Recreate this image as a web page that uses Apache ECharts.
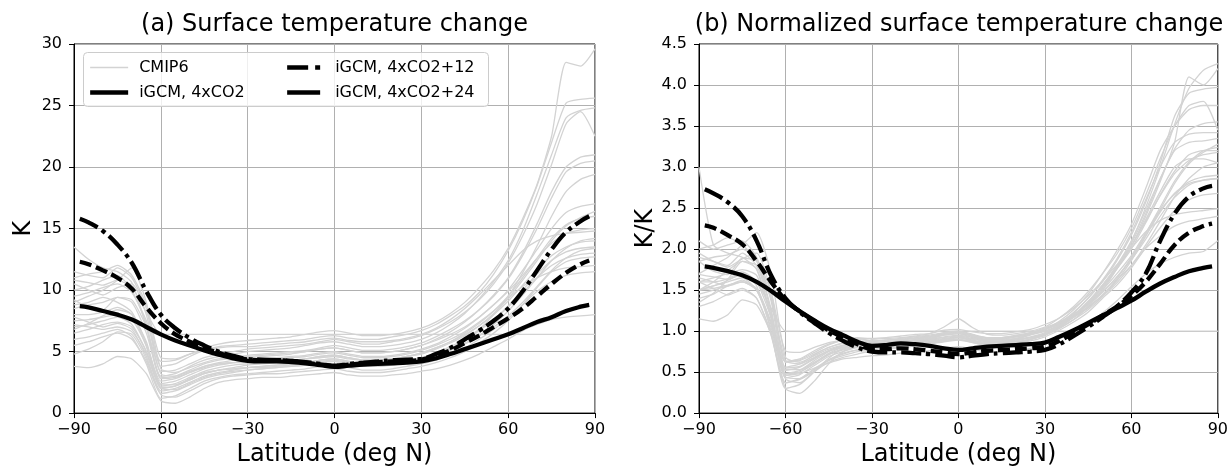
<!DOCTYPE html>
<html><head><meta charset="utf-8">
<script src="https://cdn.jsdelivr.net/npm/echarts@6/dist/echarts.min.js"></script>
<style>html,body{margin:0;padding:0;background:#fff}#c{width:1231px;height:472px}</style>
</head><body><div id="c"></div>
<script>
// latitude grids
var lat = [-90,-85,-80,-75,-70,-65,-60,-55,-50,-45,-40,-35,-30,-25,-20,-15,-10,-5,0,5,10,15,20,25,30,35,40,45,50,55,60,65,70,75,80,85,90];
var latG = [-88,-85,-80,-75,-70,-65,-60,-55,-50,-45,-40,-35,-30,-25,-20,-15,-10,-5,0,5,10,15,20,25,30,35,40,45,50,55,60,65,70,75,80,85,88];

// (a) iGCM surface temperature change (K)
var igcmA_4x   = [8.7,8.6,8.3,8.0,7.6,7.0,6.4,5.9,5.5,5.1,4.75,4.45,4.25,4.2,4.2,4.15,4.05,3.9,3.75,3.85,3.95,4.0,4.05,4.1,4.2,4.45,4.8,5.2,5.6,6.0,6.4,6.9,7.4,7.8,8.3,8.65,8.8];
var igcmA_4x12 = [12.3,12.1,11.6,11.0,10.1,8.6,7.3,6.4,5.8,5.3,4.9,4.55,4.35,4.3,4.3,4.25,4.1,3.95,3.85,3.95,4.05,4.15,4.2,4.25,4.35,4.7,5.1,5.7,6.3,7.0,7.7,8.5,9.5,10.5,11.4,12.1,12.4];
var igcmA_4x24 = [15.8,15.5,14.8,13.7,12.2,9.9,8.0,6.9,6.1,5.5,5.0,4.65,4.4,4.35,4.3,4.25,4.15,4.0,3.85,4.0,4.1,4.2,4.3,4.35,4.4,4.8,5.3,6.0,6.7,7.5,8.5,9.9,11.6,13.3,14.7,15.6,16.0];

// (b) iGCM normalized change (K/K)
var igcmB_4x   = [1.79,1.77,1.73,1.68,1.6,1.49,1.36,1.24,1.13,1.03,0.95,0.87,0.82,0.83,0.85,0.84,0.82,0.79,0.77,0.79,0.81,0.82,0.83,0.84,0.86,0.93,1.01,1.1,1.19,1.28,1.37,1.48,1.58,1.66,1.73,1.77,1.79];
var igcmB_4x12 = [2.29,2.26,2.17,2.06,1.85,1.6,1.38,1.24,1.12,1.01,0.92,0.84,0.78,0.78,0.79,0.78,0.76,0.74,0.72,0.74,0.76,0.77,0.78,0.79,0.81,0.88,0.98,1.08,1.19,1.3,1.43,1.6,1.82,2.05,2.2,2.28,2.31];
var igcmB_4x24 = [2.73,2.68,2.57,2.4,2.1,1.68,1.4,1.23,1.1,0.98,0.88,0.8,0.75,0.74,0.74,0.73,0.72,0.7,0.68,0.7,0.72,0.73,0.74,0.75,0.77,0.84,0.94,1.05,1.17,1.3,1.47,1.7,2.1,2.43,2.64,2.74,2.77];

// (a) CMIP6 models (K), values at lat
var cmipA = [
 [9.5,9.8,10.2,10.5,9.8,7.5,4.2,4.3,4.8,5.3,5.6,5.8,5.9,6.0,6.1,6.2,6.4,6.6,6.7,6.5,6.3,6.3,6.4,6.6,6.9,7.4,8.1,9.0,10.2,11.6,13.4,15.8,18.6,22.5,28.5,28.2,29.6],
 [11.5,11.2,11.0,11.8,11.0,8.5,3.8,4.0,4.6,5.1,5.4,5.5,5.6,5.7,5.8,5.9,6.0,6.2,6.3,6.1,6.0,6.0,6.2,6.4,6.7,7.2,7.9,8.7,9.8,11.3,13.2,15.6,18.5,22.0,25.2,25.5,25.6],
 [8.5,8.8,9.0,9.4,9.0,6.5,3.0,3.2,3.8,4.3,4.6,4.8,5.0,5.1,5.2,5.3,5.5,5.7,5.8,5.6,5.4,5.4,5.5,5.7,6.0,6.5,7.2,8.1,9.3,10.7,12.4,14.8,17.8,21.0,24.0,24.6,24.8],
 [10.5,10.0,9.6,10.2,10.5,8.0,3.4,3.5,4.0,4.5,4.8,5.0,5.2,5.3,5.4,5.5,5.6,5.8,6.0,5.8,5.6,5.6,5.8,6.0,6.3,6.8,7.4,8.2,9.2,10.5,12.2,14.4,17.0,20.2,23.5,24.5,22.5],
 [7.5,7.6,7.8,8.0,7.6,5.5,2.6,2.8,3.3,3.8,4.1,4.3,4.5,4.6,4.7,4.8,5.0,5.2,5.3,5.1,4.9,4.9,5.0,5.2,5.5,6.0,6.6,7.4,8.4,9.6,11.0,13.0,15.4,18.0,20.0,20.8,21.0],
 [10.0,10.3,10.8,11.2,10.0,7.2,2.9,3.0,3.5,4.0,4.3,4.5,4.7,4.8,4.9,5.0,5.1,5.3,5.5,5.3,5.1,5.1,5.2,5.4,5.7,6.2,6.8,7.5,8.4,9.5,10.9,12.8,15.0,17.5,19.6,20.3,20.5],
 [8.0,8.0,8.2,8.6,8.0,5.8,2.4,2.6,3.1,3.6,3.9,4.1,4.3,4.4,4.5,4.6,4.7,4.9,5.0,4.8,4.6,4.6,4.7,4.9,5.2,5.6,6.2,6.9,7.8,8.8,10.0,11.6,13.3,15.0,16.3,16.8,17.0],
 [6.5,6.8,7.2,7.4,7.0,5.0,2.0,2.2,2.7,3.2,3.5,3.7,3.9,4.0,4.1,4.2,4.4,4.6,4.7,4.5,4.3,4.3,4.4,4.6,4.9,5.3,5.8,6.5,7.3,8.3,9.5,11.0,12.6,14.2,15.3,15.8,16.0],
 [9.0,9.5,10.0,10.8,11.8,9.0,3.6,3.3,3.7,4.1,4.4,4.5,4.6,4.7,4.8,4.9,5.0,5.2,5.3,5.1,4.9,4.9,5.0,5.2,5.5,5.9,6.4,7.0,7.8,8.8,9.9,11.2,12.6,13.8,14.6,14.9,15.0],
 [7.0,7.2,7.5,7.8,7.2,5.0,2.2,2.4,2.9,3.4,3.7,3.9,4.0,4.1,4.2,4.3,4.4,4.6,4.7,4.5,4.3,4.3,4.4,4.6,4.9,5.3,5.8,6.4,7.1,8.0,9.1,10.4,11.7,12.8,13.5,13.9,14.0],
 [5.5,5.8,6.2,6.5,6.0,4.2,1.6,1.8,2.3,2.8,3.1,3.3,3.5,3.6,3.7,3.8,3.9,4.1,4.2,4.0,3.9,3.9,4.0,4.2,4.4,4.8,5.3,5.9,6.7,7.6,8.7,10.0,11.3,12.4,13.1,13.4,13.5],
 [7.8,7.4,7.0,7.3,6.8,4.6,1.8,2.0,2.5,3.0,3.3,3.5,3.7,3.8,3.9,4.0,4.1,4.3,4.4,4.2,4.0,4.0,4.1,4.3,4.5,4.9,5.4,6.0,6.8,7.6,8.6,9.8,11.0,12.0,12.6,12.9,13.0],
 [13.5,12.5,11.8,11.5,10.6,7.0,2.8,2.9,3.3,3.7,4.0,4.1,4.2,4.3,4.4,4.5,4.6,4.8,4.9,4.7,4.5,4.5,4.6,4.8,5.1,5.5,6.0,6.6,7.4,8.3,9.3,10.3,11.0,11.5,11.8,11.9,12.0],
 [6.0,6.2,6.5,6.8,6.2,4.0,1.2,1.4,2.0,2.6,2.9,3.1,3.2,3.3,3.4,3.5,3.6,3.8,3.9,3.7,3.5,3.5,3.6,3.8,4.0,4.3,4.8,5.3,6.0,6.8,7.7,8.8,9.9,10.7,11.2,11.4,11.5],
 [3.8,3.7,4.0,4.6,4.4,3.2,1.0,0.8,1.3,2.0,2.5,2.7,2.8,2.9,2.9,3.0,3.1,3.2,3.3,3.1,3.0,3.0,3.1,3.2,3.4,3.6,3.9,4.3,4.8,5.4,6.0,6.7,7.2,7.6,7.8,7.9,8.0],
 [10.8,10.6,10.4,10.8,10.2,8.2,6.4,6.4,6.4,6.4,6.4,6.4,6.4,6.4,6.4,6.4,6.4,6.4,6.4,6.4,6.4,6.4,6.4,6.4,6.4,6.4,6.4,6.4,6.4,6.4,6.4,6.4,6.4,6.4,6.4,6.4,6.4],
 [8.8,9.0,9.4,9.0,8.2,5.6,2.1,2.2,2.7,3.2,3.5,3.6,3.7,3.8,3.9,4.0,4.1,4.3,4.4,4.2,4.0,4.0,4.1,4.3,4.5,4.8,5.2,5.7,6.3,7.0,7.9,9.0,10.3,11.6,12.6,13.2,13.4],
 [4.8,5.2,5.8,6.6,6.4,4.4,1.5,1.3,1.8,2.4,2.8,3.0,3.1,3.2,3.2,3.3,3.4,3.5,3.6,3.4,3.3,3.3,3.4,3.6,3.8,4.1,4.5,5.0,5.7,6.5,7.5,8.8,10.2,11.5,12.3,12.6,12.7],
 [11.0,11.3,11.5,12.0,11.2,8.8,4.5,4.4,4.8,5.1,5.3,5.4,5.4,5.5,5.6,5.7,5.8,6.0,6.1,5.9,5.8,5.8,5.9,6.1,6.4,6.9,7.6,8.5,9.6,10.8,12.0,13.2,14.0,14.4,14.6,14.7,14.8],
 [7.2,7.0,6.8,7.0,6.6,4.8,2.3,2.3,2.8,3.3,3.5,3.6,3.7,3.7,3.8,3.9,4.0,4.2,4.3,4.1,3.9,3.9,4.0,4.2,4.4,4.7,5.1,5.6,6.3,7.2,8.3,9.6,11.0,12.4,13.4,14.0,14.2],
 [9.2,8.6,8.4,9.4,9.2,7.0,3.2,3.0,3.4,3.8,4.0,4.1,4.1,4.2,4.2,4.3,4.4,4.5,4.6,4.4,4.3,4.3,4.4,4.6,4.8,5.2,5.7,6.3,7.1,8.1,9.3,10.8,12.4,14.0,15.2,15.9,16.4],
 [6.8,7.3,7.9,8.4,8.0,5.4,2.0,1.9,2.4,2.9,3.2,3.4,3.5,3.6,3.7,3.8,3.9,4.1,4.2,4.0,3.8,3.8,3.9,4.1,4.3,4.7,5.2,5.9,6.8,8.0,9.5,11.4,13.6,16.0,18.0,19.0,19.4]
];

// (b) CMIP6 models normalized (K/K)
var cmipB = [
 [1.5,1.55,1.6,1.65,1.5,1.1,0.62,0.64,0.72,0.80,0.85,0.88,0.86,0.87,0.88,0.89,0.9,0.93,0.95,0.92,0.89,0.89,0.9,0.92,0.96,1.05,1.17,1.33,1.52,1.76,2.03,2.4,2.82,3.3,4.1,4.0,4.2],
 [1.9,1.85,1.8,1.95,1.8,1.4,0.63,0.66,0.76,0.84,0.89,0.91,0.88,0.89,0.9,0.91,0.92,0.95,0.97,0.94,0.92,0.92,0.94,0.97,1.02,1.1,1.23,1.4,1.6,1.86,2.17,2.57,3.05,3.62,3.9,3.95,3.97],
 [1.6,1.65,1.7,1.75,1.68,1.2,0.56,0.6,0.71,0.8,0.86,0.9,0.88,0.89,0.9,0.92,0.94,0.97,0.99,0.95,0.92,0.92,0.94,0.97,1.02,1.12,1.26,1.45,1.7,1.98,2.3,2.74,3.2,3.5,3.7,3.75,3.75],
 [1.95,1.85,1.78,1.88,1.95,1.48,0.63,0.65,0.74,0.83,0.89,0.92,0.9,0.91,0.92,0.94,0.97,1.05,1.15,1.04,0.96,0.95,0.97,1.0,1.05,1.16,1.3,1.48,1.7,1.94,2.25,2.66,3.1,3.5,3.75,3.8,3.45],
 [1.5,1.52,1.56,1.6,1.52,1.1,0.52,0.56,0.66,0.76,0.82,0.86,0.85,0.86,0.87,0.88,0.9,0.92,0.94,0.91,0.88,0.88,0.9,0.93,0.98,1.08,1.22,1.4,1.62,1.88,2.2,2.6,3.0,3.3,3.4,3.42,3.42],
 [2.1,2.0,2.05,2.1,1.9,1.37,0.55,0.57,0.67,0.76,0.82,0.86,0.85,0.86,0.87,0.88,0.89,0.91,0.93,0.9,0.87,0.87,0.89,0.92,0.97,1.06,1.19,1.36,1.56,1.78,2.07,2.43,2.85,3.2,3.3,3.32,3.35],
 [1.6,1.6,1.64,1.72,1.6,1.16,0.48,0.52,0.62,0.72,0.78,0.82,0.82,0.83,0.84,0.85,0.87,0.9,0.92,0.89,0.86,0.86,0.87,0.9,0.96,1.05,1.18,1.34,1.54,1.76,2.0,2.32,2.66,2.95,3.15,3.2,3.2],
 [1.4,1.45,1.55,1.6,1.5,1.08,0.43,0.47,0.58,0.69,0.75,0.8,0.8,0.81,0.82,0.83,0.86,0.89,0.9,0.87,0.84,0.84,0.86,0.9,0.96,1.06,1.19,1.36,1.56,1.78,2.04,2.36,2.7,3.0,3.1,3.1,3.05],
 [1.7,1.8,1.9,2.05,2.2,1.7,0.68,0.62,0.7,0.78,0.83,0.85,0.87,0.89,0.91,0.93,0.95,0.98,1.0,0.96,0.92,0.92,0.95,0.98,1.04,1.11,1.21,1.32,1.47,1.66,1.87,2.12,2.4,2.63,2.78,2.84,2.86],
 [1.45,1.5,1.55,1.62,1.5,1.04,0.46,0.5,0.6,0.71,0.77,0.81,0.83,0.85,0.87,0.89,0.91,0.96,0.98,0.94,0.89,0.89,0.91,0.96,1.02,1.1,1.2,1.33,1.48,1.66,1.89,2.16,2.45,2.68,2.82,2.88,2.9],
 [1.3,1.36,1.45,1.52,1.4,0.98,0.37,0.42,0.54,0.65,0.73,0.77,0.78,0.79,0.8,0.82,0.84,0.87,0.89,0.86,0.83,0.83,0.86,0.9,0.95,1.05,1.18,1.34,1.54,1.78,2.04,2.34,2.65,2.92,3.08,3.15,3.18],
 [1.6,1.52,1.44,1.5,1.4,0.95,0.37,0.41,0.51,0.62,0.68,0.72,0.76,0.78,0.8,0.82,0.85,0.88,0.9,0.86,0.82,0.82,0.85,0.88,0.93,1.01,1.11,1.23,1.4,1.56,1.77,2.02,2.26,2.47,2.6,2.66,2.68],
 [3.0,2.05,1.95,1.9,1.75,1.16,0.46,0.48,0.55,0.61,0.66,0.68,0.7,0.71,0.73,0.74,0.76,0.79,0.81,0.78,0.74,0.74,0.76,0.79,0.84,0.91,0.99,1.09,1.22,1.37,1.54,1.7,1.82,1.9,1.95,1.97,2.1],
 [1.5,1.55,1.62,1.7,1.55,1.0,0.3,0.35,0.5,0.65,0.72,0.77,0.8,0.82,0.85,0.87,0.9,0.95,0.97,0.92,0.87,0.87,0.9,0.95,1.0,1.07,1.2,1.32,1.5,1.7,1.92,2.2,2.47,2.67,2.8,2.84,2.86],
 [1.15,1.12,1.2,1.38,1.32,0.96,0.3,0.24,0.39,0.6,0.75,0.81,0.84,0.87,0.87,0.9,0.93,0.96,0.99,0.93,0.9,0.9,0.93,0.96,1.02,1.08,1.17,1.29,1.44,1.62,1.8,2.01,2.16,2.28,2.34,2.37,2.4],
 [1.69,1.66,1.63,1.69,1.6,1.28,1.0,1.0,1.0,1.0,1.0,1.0,1.0,1.0,1.0,1.0,1.0,1.0,1.0,1.0,1.0,1.0,1.0,1.0,1.0,1.0,1.0,1.0,1.0,1.0,1.0,1.0,1.0,1.0,1.0,1.0,1.0],
 [2.0,2.05,2.14,2.05,1.86,1.27,0.48,0.5,0.61,0.73,0.8,0.82,0.84,0.86,0.89,0.91,0.93,0.98,1.0,0.95,0.91,0.91,0.93,0.98,1.02,1.09,1.18,1.3,1.43,1.59,1.8,2.05,2.34,2.64,2.86,3.0,3.05],
 [1.35,1.46,1.63,1.85,1.8,1.24,0.42,0.37,0.51,0.67,0.79,0.84,0.8,0.82,0.82,0.84,0.86,0.88,0.9,0.87,0.84,0.84,0.86,0.9,0.95,1.05,1.18,1.34,1.56,1.8,2.1,2.47,2.86,3.22,3.45,3.53,3.55],
 [1.85,1.9,1.93,2.0,1.88,1.48,0.76,0.74,0.8,0.86,0.89,0.91,0.91,0.92,0.94,0.96,0.97,1.01,1.02,0.99,0.97,0.97,0.99,1.02,1.08,1.16,1.28,1.43,1.61,1.81,2.01,2.21,2.35,2.42,2.45,2.47,2.49],
 [1.65,1.6,1.55,1.6,1.5,1.1,0.53,0.53,0.64,0.75,0.8,0.82,0.85,0.85,0.87,0.89,0.91,0.96,0.98,0.94,0.89,0.89,0.91,0.96,1.0,1.07,1.17,1.28,1.44,1.64,1.9,2.19,2.51,2.83,3.06,3.2,3.24],
 [1.85,1.73,1.69,1.89,1.85,1.41,0.64,0.6,0.68,0.76,0.8,0.82,0.82,0.84,0.84,0.86,0.88,0.9,0.92,0.88,0.86,0.86,0.88,0.92,0.96,1.04,1.14,1.26,1.42,1.62,1.86,2.16,2.48,2.8,3.04,3.18,3.28],
 [1.5,1.6,1.74,1.85,1.76,1.19,0.44,0.42,0.53,0.64,0.7,0.75,0.77,0.79,0.81,0.84,0.86,0.9,0.92,0.88,0.84,0.84,0.86,0.9,0.95,1.03,1.14,1.3,1.5,1.76,2.09,2.51,2.99,3.52,3.96,4.18,4.26]
];

var FONT = 'DejaVu Sans';
var DASH = [12,5], DASHDOT = [20,5,4,5];
function pairs(xs, ys){ return ys.map(function(v,i){ return [xs[i], v]; }); }
function minusFmt(v){ return String(v).replace('-', '\u2212'); }

var series = [];
function addPanel(idx, cmip, a, b, c){
  cmip.forEach(function(m){
    series.push({type:'line', name:'CMIP6', xAxisIndex:idx, yAxisIndex:idx, data:pairs(lat, m),
      showSymbol:false, symbol:'none', smooth:0.2, silent:true, z:2,
      itemStyle:{color:'#d3d3d3'},
      lineStyle:{color:'#d3d3d3', width:1.3}});
  });
  var blk = [[a,'iGCM, 4xCO2','solid'],[b,'iGCM, 4xCO2+12',DASH],[c,'iGCM, 4xCO2+24',DASHDOT]];
  blk.forEach(function(s){
    series.push({type:'line', name:s[1], xAxisIndex:idx, yAxisIndex:idx, data:pairs(latG, s[0]),
      showSymbol:false, symbol:'none', smooth:0.4, silent:true, z:3,
      itemStyle:{color:'#000'},
      lineStyle:{color:'#000', width:4.3, type:s[2], cap:'butt'}});
  });
}
addPanel(0, cmipA, igcmA_4x, igcmA_4x12, igcmA_4x24);
addPanel(1, cmipB, igcmB_4x, igcmB_4x12, igcmB_4x24);

function xAx(i){
  return {type:'value', gridIndex:i, min:-90, max:90, interval:30,
    name:'Latitude (deg N)', nameLocation:'middle', nameGap:28,
    nameTextStyle:{fontFamily:FONT, fontSize:24, color:'#000'},
    axisLine:{show:true, onZero:false, lineStyle:{color:'#000', width:1}},
    axisTick:{show:true, length:5, lineStyle:{color:'#000'}},
    axisLabel:{fontFamily:FONT, fontSize:16, color:'#000', margin:9, formatter:minusFmt},
    splitLine:{show:true, lineStyle:{color:'#b0b0b0', width:1}}};
}
function yAx(i, max, itv, name, dec){
  return {type:'value', gridIndex:i, min:0, max:max, interval:itv,
    name:name, nameLocation:'middle', nameGap:38,
    nameTextStyle:{fontFamily:FONT, fontSize:24, color:'#000'},
    axisLine:{show:true, onZero:false, lineStyle:{color:'#000', width:1}},
    axisTick:{show:true, length:5, lineStyle:{color:'#000'}},
    axisLabel:{fontFamily:FONT, fontSize:16, color:'#000', margin:12,
      formatter:function(v){ return dec ? v.toFixed(1) : String(v); }},
    splitLine:{show:true, lineStyle:{color:'#b0b0b0', width:1}}};
}

function legStyle(pad){ return {fontFamily:FONT, fontSize:16, color:'#000', lineHeight:16, padding:[0,0,0,pad]}; }
var option = {
  animation:false,
  backgroundColor:'#fff',
  grid:[
    {left:74, top:44, width:521, height:372, show:true, borderColor:'#000', borderWidth:1, backgroundColor:'transparent'},
    {left:699, top:44, width:520, height:372, show:true, borderColor:'#000', borderWidth:1, backgroundColor:'transparent'}
  ],
  xAxis:[xAx(0), xAx(1)],
  yAxis:[yAx(0, 30, 5, 'K', false), yAx(1, 4.5, 0.5, 'K/K', true)],
  legend:[
    {data:[{name:'CMIP6', lineStyle:{width:1.3, color:'#d3d3d3'}},
           {name:'iGCM, 4xCO2', lineStyle:{width:4.3, color:'#000'}}],
     left:88, top:59.5, orient:'vertical', padding:0, itemGap:9, itemWidth:38, itemHeight:14,
     textStyle:legStyle(6), selectedMode:false, z:10, itemStyle:{opacity:0}},
    {data:[{name:'iGCM, 4xCO2+12', lineStyle:{width:4.3, color:'#000', type:[21,7]}},
           {name:'iGCM, 4xCO2+24', lineStyle:{width:4.3, color:'#000', type:'solid'}}],
     left:285, top:59.5, orient:'vertical', padding:0, itemGap:9, itemWidth:33, itemHeight:14,
     textStyle:legStyle(10), selectedMode:false, z:10, itemStyle:{opacity:0}}
  ],
  graphic:[
    {type:'rect', z:9, shape:{x:83.5, y:52.5, width:405, height:54, r:4},
     style:{fill:'rgba(255,255,255,0.8)', stroke:'#cccccc', lineWidth:1}},
    {type:'text', z:9, x:334.5, y:25, style:{text:'(a) Surface temperature change', fontFamily:FONT, fontSize:24, fill:'#000', align:'center', verticalAlign:'middle'}},
    {type:'text', z:9, x:959, y:25, style:{text:'(b) Normalized surface temperature change', fontFamily:FONT, fontSize:24, fill:'#000', align:'center', verticalAlign:'middle'}}
  ],
  series:series
};
var chart = echarts.init(document.getElementById('c'), null, {renderer:'canvas'});
chart.setOption(option);
</script></body></html>
